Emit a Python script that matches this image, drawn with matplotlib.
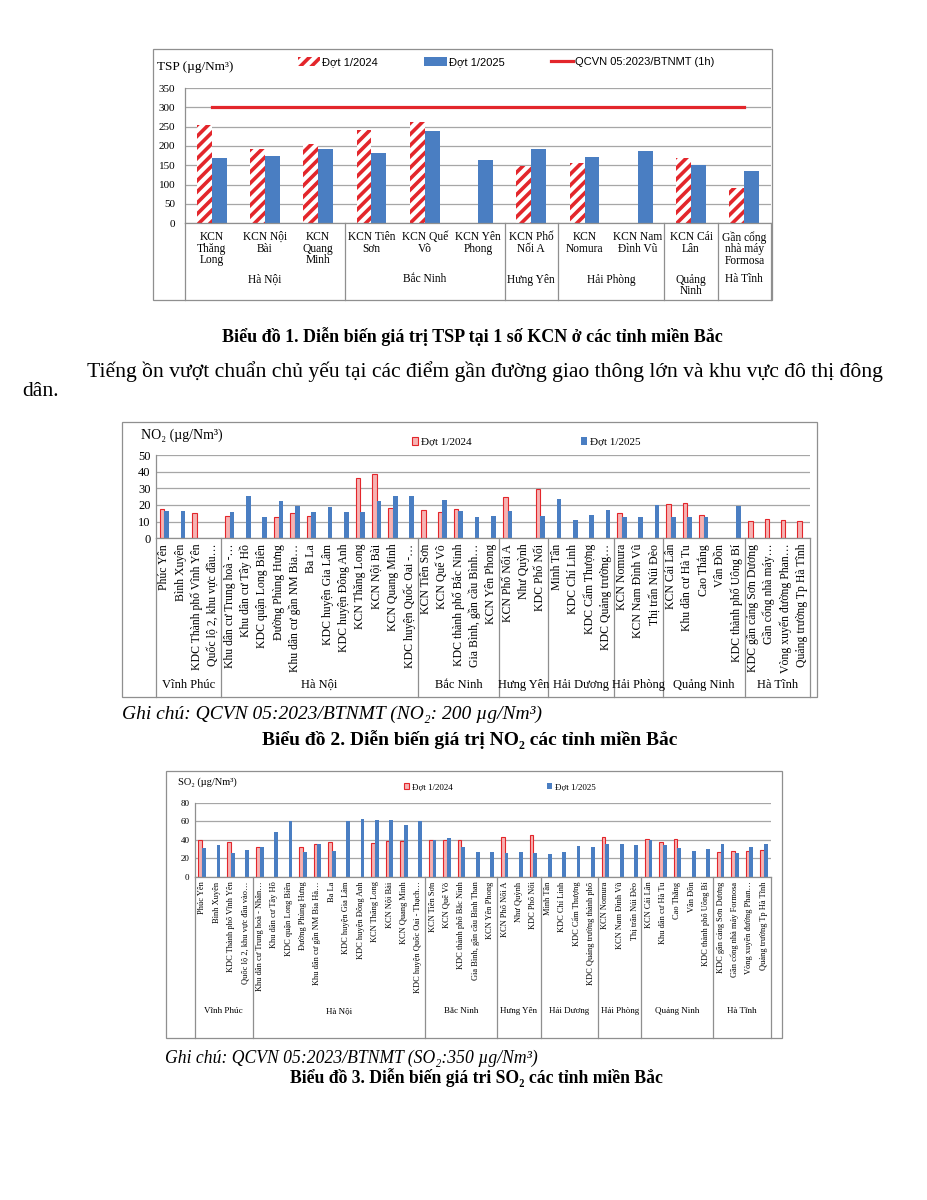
import matplotlib;
matplotlib.use('Agg');
import matplotlib.pyplot as plt;
from matplotlib.patches import Rectangle, Patch;
from matplotlib.lines import Line2D;
import numpy as np;

W=927; H=1200;
SERIF=['Liberation Serif','DejaVu Serif'];
SANS=['Liberation Sans','DejaVu Sans'];
RED='#E3262B'; PINK='#F6B3B3'; BLUE='#4A7EC2'; GRID='#A6A6A6'; EDGE='#8F8F8F';
n=np.nan;

# Bieu do 1 - TSP
tsp_sites=['KCN\nThăng\nLong','KCN Nội\nBài','KCN\nQuang\nMinh','KCN Tiên\nSơn','KCN Quế\nVõ','KCN Yên\nPhong',
           'KCN Phố\nNối A','KCN\nNomura','KCN Nam\nĐình Vũ','KCN Cái\nLân','Gần cổng\nnhà máy\nFormosa'];
tsp_2024=[255,193,204,241,262,n,147,155,n,170,92];
tsp_2025=[168,173,192,183,238,164,192,171,188,150,136];
tsp_limit=300;
tsp_groups=['Hà Nội','Bắc Ninh','Hưng Yên','Hải Phòng','Quảng\nNinh','Hà Tĩnh'];
tsp_sizes=[3,3,1,2,1,1];

# Bieu do 2 - NO2
no2_sites=['Phúc Yên','Bình Xuyên','KDC Thành phố Vĩnh Yên','Quốc lộ 2, khu vực đầu…',
           'Khu dân cư Trung hoà -…','Khu dân cư Tây Hồ','KDC quận Long Biên','Đường Phùng Hưng',
           'Khu dân cư gần NM Bia…','Ba La','KDC huyện Gia Lâm','KDC huyện Đông Anh','KCN Thăng Long',
           'KCN Nội Bài','KCN Quang Minh','KDC huyện Quốc Oai -…',
           'KCN Tiên Sơn','KCN Quế Võ','KDC thành phố Bắc Ninh','Gia Bình, gần cầu Bình…','KCN Yên Phong',
           'KCN Phố Nối A','Như Quỳnh','KDC Phố Nối',
           'Minh Tân','KDC Chí Linh','KDC Cẩm Thượng','KDC Quảng trường…',
           'KCN Nomura','KCN Nam Đình Vũ','Thị trấn Núi Đèo',
           'KCN Cái Lân','Khu dân cư Hà Tu','Cao Thắng','Vân Đồn','KDC thành phố Uông Bí',
           'KDC gần cảng Sơn Dương','Gần cổng nhà máy…','Vòng xuyến đường Phan…','Quảng trường Tp Hà Tĩnh'];
no2_2024=[17.4,n,15.2,n, 13.4,n,n,12.8,15.0,13.2,n,n,36.2,38.4,18.2,n, 16.8,15.6,17.4,n,n,
          24.6,n,29.6, n,n,n,n, 15.0,n,n, 20.4,21.4,14.2,n,n, 10.2,11.4,11.0,10.4];
no2_2025=[16.2,16.2,n,n, 15.8,25.4,12.8,22.4,19.2,15.8,18.8,15.8,15.8,22.2,25.4,25.4, n,23.0,16.6,12.8,13.2,
          16.4,n,13.2, 23.8,10.8,14.0,17.0, 13.0,13.0,20.2, 13.0,13.0,13.0,n,19.4, n,n,n,n];

# Bieu do 3 - SO2
so2_sites=['Phúc Yên','Bình Xuyên','KDC Thành phố Vĩnh Yên','Quốc lộ 2, khu vực đầu vào…',
           'Khu dân cư Trung hoà - Nhân…','Khu dân cư Tây Hồ','KDC quận Long Biên','Đường Phùng Hưng',
           'Khu dân cư gần NM Bia Hà…','Ba La','KDC huyện Gia Lâm','KDC huyện Đông Anh','KCN Thăng Long',
           'KCN Nội Bài','KCN Quang Minh','KDC huyện Quốc Oai - Thạch…',
           'KCN Tiên Sơn','KCN Quế Võ','KDC thành phố Bắc Ninh','Gia Bình, gần cầu Bình Than','KCN Yên Phong',
           'KCN Phố Nối A','Như Quỳnh','KDC Phố Nối',
           'Minh Tân','KDC Chí Linh','KDC Cẩm Thượng','KDC Quảng trường thành phố',
           'KCN Nomura','KCN Nam Đình Vũ','Thị trấn Núi Đèo',
           'KCN Cái Lân','Khu dân cư Hà Tu','Cao Thắng','Vân Đồn','KDC thành phố Uông Bí',
           'KDC gần cảng Sơn Dương','Gần cổng nhà máy Formosa','Vòng xuyến đường Phan…','Quảng trường Tp Hà Tĩnh'];
so2_2024=[39.6,n,37.1,n, 32.4,n,n,32.4,35.7,37.5,n,n,36.4,38.2,38.9,n, 40,40,40,n,n,
          42.9,n,45.4, n,n,n,n, 42.9,n,n, 40.7,37.1,41.1,n,n, 27.0,27.7,27.7,28.5];
so2_2025=[31.0,34.6,25.2,28.5, 32.4,48.6,60.2,27.0,35.7,28.1,60.2,62.7,60.9,61.3,56.2,60.2, 40,41.8,32.1,27.0,26.3,
          25.2,26.7,25.2, 24.9,26.7,33.5,31.7, 35.7,35.0,33.9, 39.6,34.2,30.6,27.4,30.3, 35.0,25.9,31.7,35.3];

provinces=['Vĩnh Phúc','Hà Nội','Bắc Ninh','Hưng Yên','Hải Dương','Hải Phòng','Quảng Ninh','Hà Tĩnh'];
province_sizes=[4,12,5,3,4,3,5,4];

plt.rcParams['font.family']=SERIF;
plt.rcParams['hatch.linewidth']=2.6;

fig=plt.figure(figsize=(W/100,H/100),dpi=100);


def frame(x0,y0,x1,y1):
    fig.add_artist(Rectangle((x0/W,1-y1/H),(x1-x0)/W,(y1-y0)/H,transform=fig.transFigure,
                             fill=False,edgecolor=EDGE,lw=0.9));


def chart_axes(x0,y0,x1,y1,top,step,fs,ypad):
    ax=fig.add_axes([x0/W,1-y1/H,(x1-x0)/W,(y1-y0)/H]);
    ax.set_ylim(0,top);
    ax.set_yticks(np.arange(0,top+1,step));
    ax.yaxis.grid(True,color=GRID,lw=0.9);
    ax.set_axisbelow(True);
    for s in ['top','right']:
        ax.spines[s].set_visible(False);
    for s in ['left','bottom']:
        ax.spines[s].set_color(EDGE);
        ax.spines[s].set_linewidth(0.9);
    ax.tick_params(axis='both',length=0,labelsize=fs);
    ax.tick_params(axis='y',pad=ypad);
    return ax;


def categories(ax,sites,groups,sizes,bottom_px,group_top,fs_site,fs_group,rotation,pad,ls=1.05):
    pos=ax.get_position();
    ax_h=pos.height*H; ax_bottom=(1-pos.y0)*H;
    depth=-(bottom_px-ax_bottom)/ax_h;
    gy=-(group_top-ax_bottom)/ax_h;
    ax.set_xlim(-0.5,len(sites)-0.5);
    ax.set_xticks(np.arange(len(sites)));
    ax.set_xticklabels(sites,rotation=rotation,ha='center',va='top',fontsize=fs_site,linespacing=ls);
    ax.tick_params(axis='x',pad=pad);
    tr=ax.get_xaxis_transform();
    bounds=np.cumsum([0]+sizes)-0.5;
    for b in bounds:
        ax.plot([b,b],[0,depth],transform=tr,color=EDGE,lw=0.9,clip_on=False);
    for c,g in zip((bounds[:-1]+bounds[1:])/2,groups):
        ax.text(c,gy,g,transform=tr,ha='center',va='top',fontsize=fs_group,linespacing=ls);


def pair_bars(ax,v24,v25,width,style24):
    x=np.arange(len(v24));
    ax.bar(x-width/2,v24,width,**style24);
    ax.bar(x+width/2,v25,width,color=BLUE,lw=0);


# ---- chart 1
frame(153,49,772,300);
ax1=chart_axes(185,88,771,223.3,350,50,8,7);
style1={'facecolor':'white','edgecolor':RED,'hatch':'///','lw':0};
pair_bars(ax1,tsp_2024,tsp_2025,0.28,style1);
x1=np.arange(len(tsp_sites));
ax1.plot(x1,np.full(len(x1),tsp_limit),color=RED,lw=2.3);
categories(ax1,tsp_sites,tsp_groups,tsp_sizes,300,273.5,8.3,8.3,0,5.5,0.97);
fig.text(157/W,1-67/H,'TSP (µg/Nm³)',fontsize=9.5,va='center',family=SERIF);
h1=[Patch(facecolor='white',edgecolor=RED,hatch='///',lw=0),Patch(facecolor=BLUE),Line2D([],[],color=RED,lw=2.3)];
fig.legend(h1,['Đợt 1/2024','Đợt 1/2025','QCVN 05:2023/BTNMT (1h)'],loc='center left',
           bbox_to_anchor=(298/W,1-62/H),ncol=3,frameon=False,prop={'family':SANS,'size':8},
           handlelength=2.0,handleheight=0.9,handletextpad=0.2,columnspacing=4.15,borderpad=0,borderaxespad=0);

fig.text(472/W,1-337/H,'Biểu đồ 1. Diễn biến giá trị TSP tại 1 số KCN ở các tỉnh miền Bắc',
         fontsize=13,fontweight='bold',ha='center',va='center');
fig.text(87/W,1-372/H,'Tiếng ồn vượt chuẩn chủ yếu tại các điểm gần đường giao thông lớn và khu vực đô thị đông',
         fontsize=15.6,va='center');
fig.text(22/W,1-391/H,'dân.',fontsize=15.6,va='center');

# ---- chart 2
frame(122,422,817,697);
ax2=chart_axes(156,455,810,538.3,50,10,9,4);
style2={'facecolor':PINK,'edgecolor':RED,'lw':0.8};
pair_bars(ax2,no2_2024,no2_2025,0.28,style2);
categories(ax2,no2_sites,provinces,province_sizes,697,679,8.5,9,90,4);
fig.text(141/W,1-435/H,'NO₂ (µg/Nm³)',fontsize=10,va='center');
h2=[Patch(facecolor=PINK,edgecolor=RED,lw=0.8),Patch(facecolor=BLUE)];
fig.legend(h2,['Đợt 1/2024','Đợt 1/2025'],loc='center left',bbox_to_anchor=(412/W,1-442/H),ncol=2,
           frameon=False,prop={'family':SERIF,'size':8},handlelength=0.55,handleheight=0.7,
           handletextpad=0.3,columnspacing=9.8,borderpad=0,borderaxespad=0);

fig.text(122/W,1-714/H,'Ghi chú: QCVN 05:2023/BTNMT (NO₂: 200 µg/Nm³)',fontsize=14,style='italic',va='center');
fig.text(470/W,1-740/H,'Biểu đồ 2. Diễn biến giá trị NO₂ các tỉnh miền Bắc',
         fontsize=14,fontweight='bold',ha='center',va='center');

# ---- chart 3
frame(166,771,782,1038);
ax3=chart_axes(195,802.7,771,876.7,80,20,6.5,4);
pair_bars(ax3,so2_2024,so2_2025,0.27,style2);
categories(ax3,so2_sites,provinces,province_sizes,1038,1007,6,6.5,90,3.5);
fig.text(178/W,1-782/H,'SO₂ (µg/Nm³)',fontsize=7.5,va='center');
fig.legend(h2,['Đợt 1/2024','Đợt 1/2025'],loc='center left',bbox_to_anchor=(404/W,1-787/H),ncol=2,
           frameon=False,prop={'family':SERIF,'size':6.5},handlelength=0.55,handleheight=0.7,
           handletextpad=0.3,columnspacing=10.5,borderpad=0,borderaxespad=0);

fig.text(165/W,1-1058/H,'Ghi chú: QCVN 05:2023/BTNMT (SO₂:350 µg/Nm³)',fontsize=12.7,style='italic',va='center');
fig.text(476/W,1-1078/H,'Biểu đồ 3. Diễn biến giá tri SO₂ các tỉnh miền Bắc',
         fontsize=12.7,fontweight='bold',ha='center',va='center');

fig.savefig('out.png',dpi=100);
